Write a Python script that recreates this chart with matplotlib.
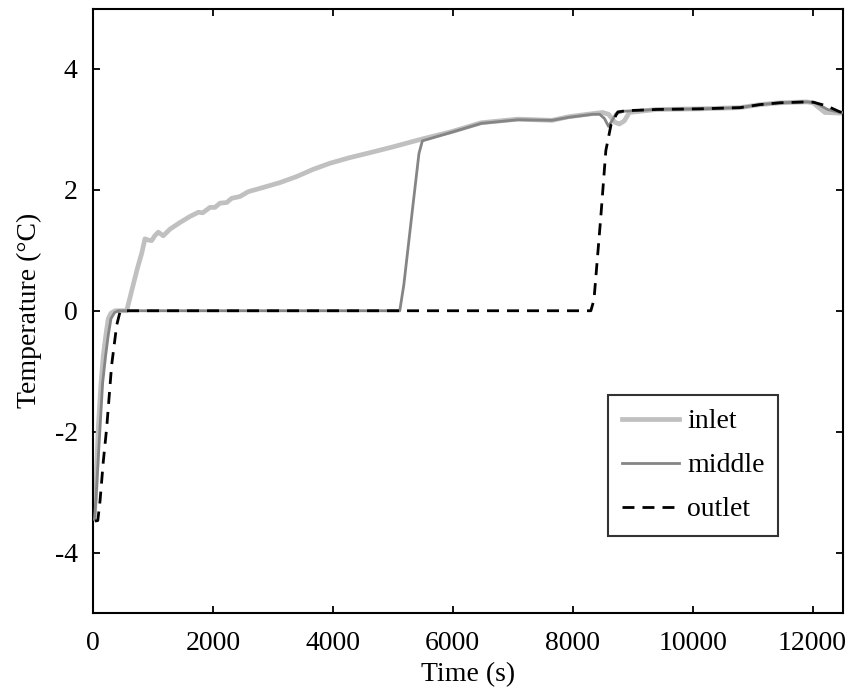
import matplotlib
matplotlib.use("Agg")
import matplotlib.pyplot as plt

plt.rcParams['font.family'] = ['Liberation Serif', 'DejaVu Serif']
plt.rcParams['axes.unicode_minus'] = False
plt.rcParams['lines.scale_dashes'] = False

# ---- data ----
inlet_t = [20, 45, 88, 130, 172, 215, 255, 300, 367, 450, 562, 650, 740, 812, 867, 920, 978, 1030,
           1089, 1172, 1284, 1451, 1617, 1700, 1756, 1830, 1951, 2034, 2118, 2229, 2313, 2451,
           2590, 2840, 3118, 3397, 3674, 3952, 4271, 4600, 5000, 5484, 5970, 6475, 7085,
           7655, 7935, 8328, 8500, 8600, 8700, 8780, 8860, 8946, 9400, 10122, 10789,
           11122, 11456, 11901, 12011, 12206, 12456, 12500]
inlet_T = [-3.45, -3.0, -1.94, -1.25, -0.74, -0.4, -0.13, -0.04, 0.0, 0.0, 0.0, 0.35, 0.7, 0.95,
           1.19, 1.17, 1.16, 1.24, 1.3, 1.24, 1.35, 1.46, 1.56, 1.6, 1.63, 1.62, 1.71, 1.71, 1.78,
           1.79, 1.86, 1.89, 1.97, 2.04, 2.12, 2.22, 2.34, 2.44, 2.53, 2.61, 2.71, 2.84,
           2.96, 3.11, 3.17, 3.15, 3.21, 3.26, 3.28, 3.25, 3.12, 3.09, 3.14, 3.28, 3.33, 3.34,
           3.36, 3.41, 3.44, 3.455, 3.44, 3.28, 3.27, 3.27]

middle_t = [25, 50, 117, 160, 211, 255, 300, 360, 420, 1000, 3000, 5116, 5184, 5325, 5436, 5493,
            5970, 6475, 7085, 7655, 7935, 8328, 8450, 8530, 8597, 8660, 8720, 8850, 9400,
            10122, 10789, 11122, 11456, 11901, 12050, 12250, 12456, 12500]
middle_T = [-3.45, -3.1, -1.94, -1.2, -0.74, -0.4, -0.13, -0.03, 0.0, 0.0, 0.0, 0.0, 0.43, 1.65,
            2.6, 2.81, 2.95, 3.1, 3.16, 3.15, 3.2, 3.25, 3.25, 3.18, 3.05, 3.15, 3.26, 3.3, 3.33,
            3.34, 3.36, 3.41, 3.44, 3.455, 3.44, 3.33, 3.28, 3.28]

outlet_t = [33, 80, 117, 172, 228, 311, 395, 450, 520, 2000, 5000, 8303, 8355, 8468, 8553, 8640,
            8753, 8900, 9400, 10122, 10789, 11122, 11456, 11901, 12011, 12234, 12456, 12500]
outlet_T = [-3.48, -3.47, -3.15, -2.49, -1.94, -0.9, -0.24, -0.02, 0.0, 0.0, 0.0, 0.0, 0.18,
            1.54, 2.65, 3.08, 3.29, 3.31, 3.33, 3.34, 3.36, 3.41, 3.44, 3.455, 3.45, 3.39,
            3.29, 3.28]

x_ticks = [0, 2000, 4000, 6000, 8000, 10000, 12000]
y_ticks = [-4, -2, 0, 2, 4]

fig = plt.figure(figsize=(8.53, 6.91), dpi=100)
ax = fig.add_axes([93 / 853, (691 - 613) / 691, (842.5 - 93) / 853, (613 - 8.5) / 691])

ax.plot(inlet_t, inlet_T, color='#c0c0c0', lw=3.4, label='inlet', zorder=2)
ax.plot(middle_t, middle_T, color='#858585', lw=2.0, label='middle', zorder=3)
ax.plot(outlet_t, outlet_T, color='black', lw=2.0, linestyle=(0, (8.6, 5.8)),
        label='outlet', zorder=4)

ax.set_xlim(0, 12500)
ax.set_ylim(-5, 5)
ax.set_xticks(x_ticks)
ax.set_yticks(y_ticks)
ax.set_xticklabels([str(v) for v in x_ticks])
ax.set_yticklabels([str(v) for v in y_ticks])
ax.tick_params(direction='in', length=5, width=1.3, top=True, right=True,
               labelsize=20)
ax.tick_params(axis='y', pad=11)
ax.tick_params(axis='x', pad=13)
for s in ax.spines.values():
    s.set_linewidth(1.5)

ax.set_xlabel('Time (s)', fontsize=20, labelpad=4)
ax.set_ylabel('Temperature (°C)', fontsize=20, labelpad=9)

leg = ax.legend(loc='upper left', bbox_to_anchor=(0.687, 0.3606), fontsize=20,
                frameon=True, fancybox=False, handlelength=2.05, handletextpad=0.3,
                labelspacing=0.67, borderpad=0.5, borderaxespad=0)
leg.get_frame().set_edgecolor('black')
leg.get_frame().set_linewidth(1.5)

fig.savefig('out.png', dpi=100)
